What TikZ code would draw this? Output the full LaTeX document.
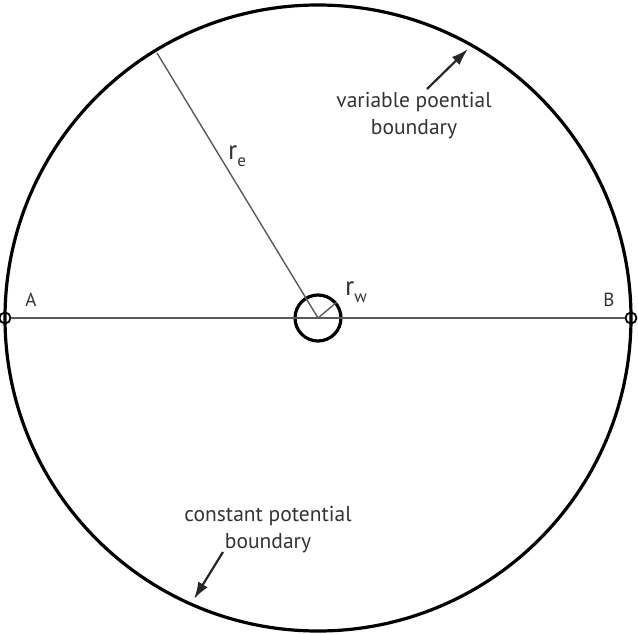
\documentclass[tikz,border=0pt]{standalone}
\usepackage{fontspec}
\setmainfont{PT Sans}
\usetikzlibrary{arrows.meta,positioning,calc}

\begin{document}
\begin{tikzpicture}[
      x=1pt, y=-1pt,
      rim/.style={draw=black, line width=3.2pt},
      ray/.style={draw=black!65, line width=1.4pt},
      pin/.style={circle, draw=black, line width=1.8pt, minimum size=11pt, inner sep=0pt},
      lbl/.style={text=black!80, font=\fontsize{21.5}{27}\selectfont, align=center, inner sep=0pt},
      arr/.style={-{Latex[length=17pt,width=11pt]}, line width=2.2pt, draw=black!85}
    ]
      \useasboundingbox (0,0) rectangle (638,634);
      \coordinate (o) at (318,318);
      \draw[rim] (o) circle[radius=313];
      \node[pin] (A) at (5,318) {};
      \node[pin] (B) at (631,318) {};
      \node[circle, rim, minimum size=46pt, inner sep=0pt] (well) at (o) {};
      \coordinate (edge) at (157,53);
      \draw[ray] (A) -- (B);
      \draw[ray] (o) -- (edge);
      \draw[ray] (o) -- (well.40);
      \node[lbl, font=\fontsize{19}{23}\selectfont] (la) at (31,300) {A};
      \node[lbl, font=\fontsize{19}{23}\selectfont] (lb) at (609,300) {B};
      \node[lbl, font=\fontsize{27}{30}\selectfont] (re) at (237,156) {r\raisebox{-0.5ex}{\fontsize{17}{19}\selectfont e}};
      \node[lbl, font=\fontsize{27}{30}\selectfont] (rw) at (356,292) {r\raisebox{-0.5ex}{\fontsize{17}{19}\selectfont w}};
      % boundary labels
      \node[lbl] (vary) at (414,116) {variable poential\\boundary};
      \node[lbl] (const) at (268,530) {constant potential\\boundary};
      \coordinate (vtail) at (427,89);
      \coordinate (vtip) at (468,49);
      \coordinate (ctail) at (223,552);
      \coordinate (ctip) at (194,599);
      \draw[arr] (vtail) -- (vtip);
      \draw[arr] (ctail) -- (ctip);
    \end{tikzpicture}
\end{document}
